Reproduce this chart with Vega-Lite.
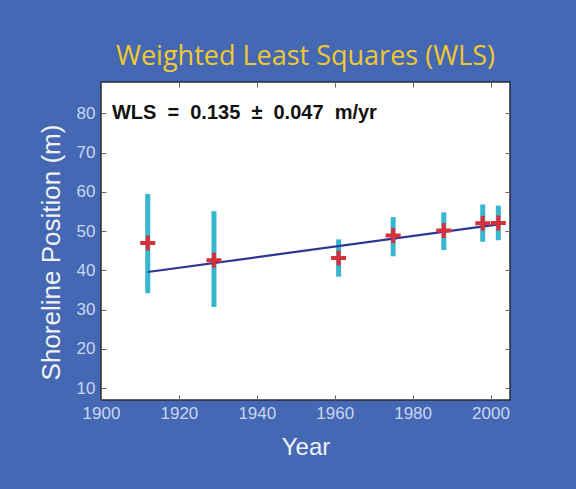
{
  "$schema": "https://vega.github.io/schema/vega-lite/v6.json",
  "width": 409,
  "height": 318,
  "autosize": "none",
  "padding": {"left": 101, "top": 82, "right": 66, "bottom": 89},
  "background": "#4468b4",
  "config": {
    "view": {"fill": "white", "stroke": "#2a2a3a", "strokeWidth": 1.5},
    "font": "Liberation Sans"
  },
  "title": {
    "text": "Weighted Least Squares (WLS)",
    "font": "Open Sans",
    "fontSize": 27,
    "fontWeight": "normal",
    "color": "#f2c830",
    "anchor": "middle",
    "offset": 11
  },
  "resolve": {"axis": {"x": "independent", "y": "independent"}},
  "datasets": {
    "obs": [
      {"year": 1912, "pos": 47.0, "lo": 34.2, "hi": 59.5},
      {"year": 1929, "pos": 42.6, "lo": 30.7, "hi": 55.1},
      {"year": 1961, "pos": 43.2, "lo": 38.4, "hi": 47.9},
      {"year": 1975, "pos": 48.9, "lo": 43.6, "hi": 53.6},
      {"year": 1988, "pos": 50.2, "lo": 45.2, "hi": 54.8},
      {"year": 1998, "pos": 52.0, "lo": 47.3, "hi": 56.8},
      {"year": 2002, "pos": 52.1, "lo": 47.7, "hi": 56.5}
    ],
    "fit": [
      {"year": 1912, "pos": 39.6},
      {"year": 2002, "pos": 51.75}
    ],
    "note": [
      {"year": 1902.8, "pos": 80, "label": "WLS \u00a0=\u00a0 0.135 \u00a0\u00b1\u00a0 0.047 \u00a0m/yr"}
    ]
  },
  "layer": [
    {
      "data": {"name": "obs"},
      "mark": {"type": "rule", "color": "#38b6d0", "strokeWidth": 5},
      "encoding": {
        "x": {
          "field": "year",
          "type": "quantitative",
          "scale": {"domain": [1900, 2005], "nice": false, "zero": false},
          "axis": {
            "values": [1900, 1920, 1940, 1960, 1980, 2000],
            "format": "d",
            "grid": false,
            "domain": false,
            "labelFlush": false,
            "tickSize": -5,
            "tickColor": "#666",
            "labelFontSize": 17,
            "labelColor": "#c9d7f0",
            "labelPadding": 10,
            "title": "Year",
            "titleFontSize": 24,
            "titleFontWeight": "normal",
            "titleColor": "#f2f2f2",
            "titlePadding": 14
          }
        },
        "y": {
          "field": "lo",
          "type": "quantitative",
          "scale": {"domain": [7, 88], "nice": false, "zero": false},
          "axis": {
            "values": [10, 20, 30, 40, 50, 60, 70, 80],
            "grid": false,
            "domain": false,
            "labelFlush": false,
            "tickSize": -5,
            "tickColor": "#666",
            "labelFontSize": 17,
            "labelColor": "#c9d7f0",
            "labelPadding": 11,
            "title": "Shoreline Position (m)",
            "titleFontSize": 26,
            "titleFontWeight": "normal",
            "titleColor": "#f2f2f2",
            "titlePadding": 12,
            "titleY": 170
          }
        },
        "y2": {"field": "hi"}
      }
    },
    {
      "data": {"name": "fit"},
      "mark": {"type": "line", "color": "#2b3892", "strokeWidth": 2.2},
      "encoding": {
        "x": {
          "field": "year",
          "type": "quantitative",
          "axis": {
            "orient": "top",
            "values": [1900, 1920, 1940, 1960, 1980, 2000],
            "labels": false,
            "title": null,
            "grid": false,
            "domain": false,
            "tickSize": -5,
            "tickColor": "#666"
          }
        },
        "y": {
          "field": "pos",
          "type": "quantitative",
          "axis": {
            "orient": "right",
            "values": [10, 20, 30, 40, 50, 60, 70, 80],
            "labels": false,
            "title": null,
            "grid": false,
            "domain": false,
            "tickSize": -5,
            "tickColor": "#666"
          }
        }
      }
    },
    {
      "data": {"name": "obs"},
      "mark": {
        "type": "point",
        "shape": "M-1,0L1,0M0,-1L0,1",
        "filled": false,
        "stroke": "#d8303a",
        "strokeWidth": 4,
        "size": 225,
        "opacity": 1
      },
      "encoding": {
        "x": {"field": "year", "type": "quantitative", "axis": null},
        "y": {"field": "pos", "type": "quantitative", "axis": null}
      }
    },
    {
      "data": {"name": "note"},
      "mark": {
        "type": "text",
        "align": "left",
        "baseline": "middle",
        "fontSize": 20,
        "fontWeight": "bold",
        "fill": "#111111"
      },
      "encoding": {
        "x": {"field": "year", "type": "quantitative", "axis": null},
        "y": {"field": "pos", "type": "quantitative", "axis": null},
        "text": {"field": "label", "type": "nominal"}
      }
    }
  ]
}
